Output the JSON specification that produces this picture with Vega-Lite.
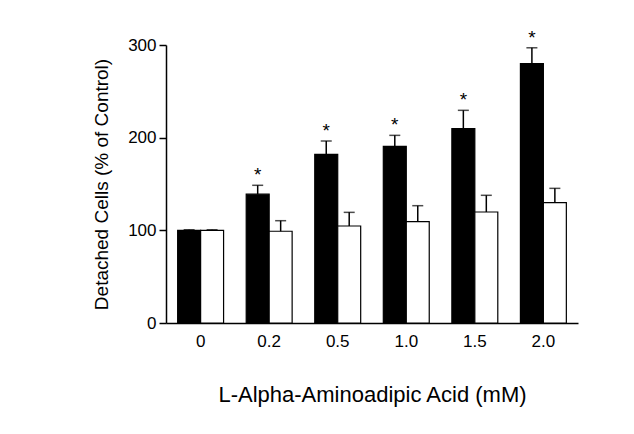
{
  "$schema": "https://vega.github.io/schema/vega-lite/v6.json",
  "width": 412,
  "height": 278,
  "autosize": {"type": "none"},
  "padding": {"left": 166, "top": 45, "right": 56, "bottom": 111},
  "background": "white",
  "config": {
    "view": {"stroke": null},
    "font": "Liberation Sans",
    "axis": {"labelFont": "Liberation Sans", "titleFont": "Liberation Sans", "domainColor": "black", "tickColor": "black", "labelColor": "black", "titleColor": "black", "grid": false, "titleFontWeight": "normal"}
  },
  "data": {
    "values": [
      {"conc": "0", "group": "treated", "value": 100, "upper": 100.6, "star": ""},
      {"conc": "0", "group": "control", "value": 100, "upper": 100.6, "star": ""},
      {"conc": "0.2", "group": "treated", "value": 139, "upper": 148.6, "star": "*"},
      {"conc": "0.2", "group": "control", "value": 99, "upper": 110.4, "star": ""},
      {"conc": "0.5", "group": "treated", "value": 182, "upper": 196.4, "star": "*"},
      {"conc": "0.5", "group": "control", "value": 104.7, "upper": 119.4, "star": ""},
      {"conc": "1.0", "group": "treated", "value": 190.7, "upper": 202.5, "star": "*"},
      {"conc": "1.0", "group": "control", "value": 109.3, "upper": 126.6, "star": ""},
      {"conc": "1.5", "group": "treated", "value": 209.7, "upper": 229.5, "star": "*"},
      {"conc": "1.5", "group": "control", "value": 119.8, "upper": 137.8, "star": ""},
      {"conc": "2.0", "group": "treated", "value": 279.8, "upper": 297, "star": "*"},
      {"conc": "2.0", "group": "control", "value": 129.8, "upper": 145.3, "star": ""}
    ]
  },
  "encoding": {
    "x": {
      "field": "conc", "type": "nominal", "sort": ["0", "0.2", "0.5", "1.0", "1.5", "2.0"],
      "scale": {"paddingInner": 0.33, "paddingOuter": 0.17},
      "axis": {"title": "L-Alpha-Aminoadipic Acid (mM)", "titleFontSize": 22, "titlePadding": 35, "labelFontSize": 17, "labelAngle": 0, "ticks": false, "labelPadding": 10, "domainWidth": 1.5}
    },
    "xOffset": {"field": "group", "type": "nominal", "sort": ["treated", "control"], "scale": {"paddingInner": 0, "paddingOuter": 0}}
  },
  "layer": [
    {
      "mark": {"type": "bar", "stroke": "black", "strokeWidth": 1.2},
      "encoding": {
        "y": {
          "field": "value", "type": "quantitative",
          "scale": {"domain": [0, 300], "nice": false},
          "axis": {"title": "Detached Cells (% of Control)", "titleFontSize": 19, "titlePadding": 16, "labelFontSize": 17, "values": [0, 100, 200, 300], "tickSize": 7, "tickWidth": 1.5, "labelPadding": 3, "domainWidth": 1.5}
        },
        "fill": {"field": "group", "type": "nominal", "scale": {"domain": ["treated", "control"], "range": ["black", "white"]}, "legend": null}
      }
    },
    {
      "mark": {"type": "rule", "color": "black", "strokeWidth": 1.5},
      "encoding": {
        "y": {"field": "value", "type": "quantitative"},
        "y2": {"field": "upper"}
      }
    },
    {
      "mark": {"type": "tick", "color": "black", "thickness": 1.5, "size": 11, "orient": "horizontal"},
      "encoding": {
        "y": {"field": "upper", "type": "quantitative"}
      }
    },
    {
      "mark": {"type": "text", "fontSize": 19, "baseline": "alphabetic", "dy": -4, "color": "black"},
      "encoding": {
        "y": {"field": "upper", "type": "quantitative"},
        "text": {"field": "star"}
      }
    }
  ]
}
